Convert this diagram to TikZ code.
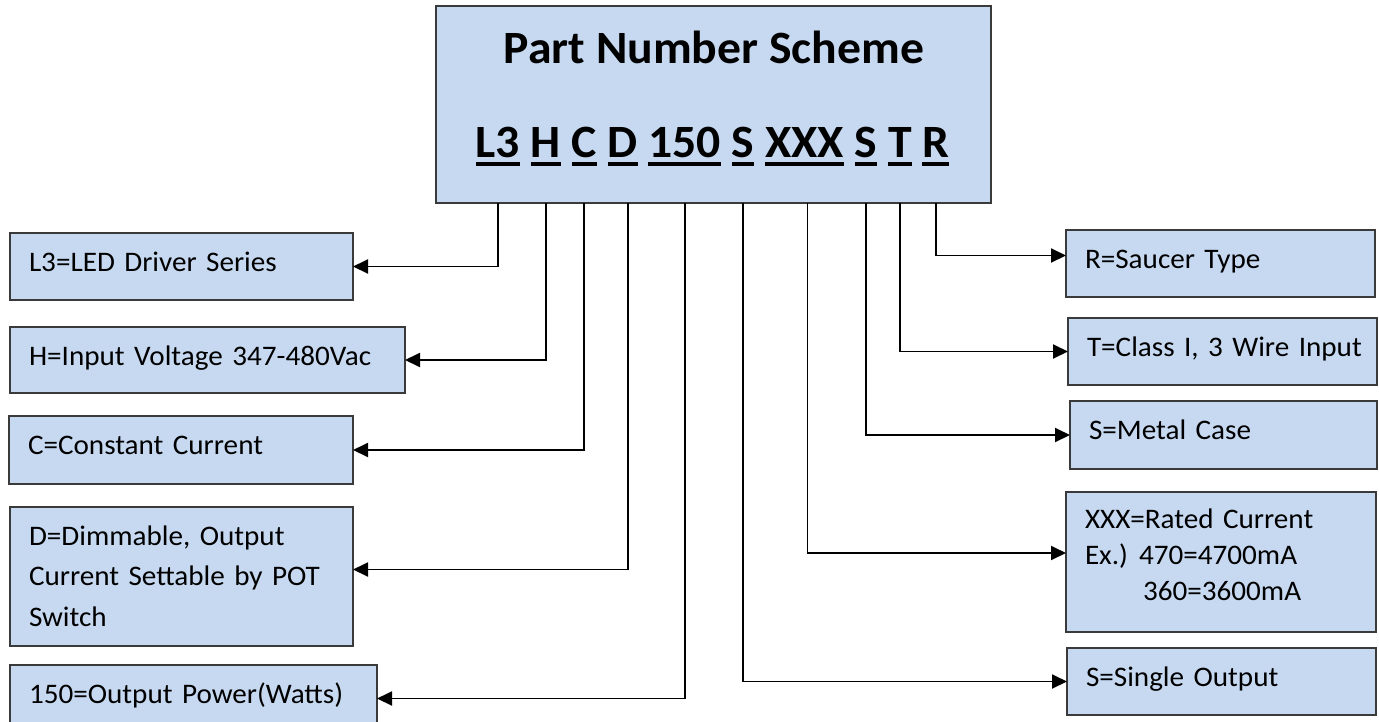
\documentclass[tikz,border=0pt]{standalone}
\usepackage{fontspec}
\setmainfont{Carlito}[FakeStretch=1.03]
\usepackage{tikz}
\usetikzlibrary{positioning,arrows.meta}
\definecolor{pnfill}{HTML}{C6D9F1}
\definecolor{pnedge}{HTML}{3A3A3A}
\tikzset{
  pn/.style={draw=pnedge, line width=1.4pt, fill=pnfill, outer sep=0pt},
  pn main/.style={pn, anchor=north west, inner sep=0pt},
  pn head/.style={font=\fontsize{46.3}{54}\selectfont\bfseries, inner sep=0pt, outer sep=0pt},
  pn code/.style={pn head, anchor=base west},
  pn uline/.style={line width=3.2pt, black},
  pn desc/.style={pn, anchor=north west, align=left, inner xsep=19pt, inner ysep=0pt,
                  text height=38pt, font=\fontsize{28.3}{40.5}\selectfont},
  pn arr/.style={-{Triangle[length=15pt, width=14pt]}, line width=1.9pt, black},
}

\begin{document}
\begin{tikzpicture}[x=1pt, y=-1pt]
  \useasboundingbox (0,0) rectangle (1379,721);
  % the part number itself, one node for each field
  \node[pn main, minimum width=555pt, minimum height=197pt] (scheme) at (436,6) {};
  \node[pn head, anchor=base] (title) at (714,63) {Part Number Scheme};
  \node[pn code] (cL3) at (475.5,157) {L3};
  \node[pn code, base right=10.8pt of cL3] (cH) {H};
  \node[pn code, base right=10.8pt of cH] (cC) {C};
  \node[pn code, base right=10.8pt of cC] (cD) {D};
  \node[pn code, base right=10.8pt of cD] (c150) {150};
  \node[pn code, base right=10.8pt of c150] (cS) {S};
  \node[pn code, base right=10.8pt of cS] (cX) {XXX};
  \node[pn code, base right=10.8pt of cX] (cS2) {S};
  \node[pn code, base right=10.8pt of cS2] (cT) {T};
  \node[pn code, base right=10.8pt of cT] (cR) {R};
  \foreach \c in {cL3,cH,cC,cD,c150,cS,cX,cS2,cT,cR}
    \draw[pn uline] ([yshift=-7pt]\c.base west) -- ([yshift=-7pt]\c.base east);
  % left column: first five fields
  \node[pn desc, text width=305pt, text depth=29pt] (dL3) at (10,233) {L3=LED Driver Series};
  \node[pn desc, text width=357pt, text depth=28pt] (dH) at (10,327) {\mbox{H=Input Voltage 347-480Vac}};
  \node[pn desc, text width=306pt, text depth=30pt] (dC) at (9,416) {C=Constant Current};
  \node[pn desc, text width=305pt, text depth=101pt] (dD) at (10,507) {D=Dimmable, Output\\Current Settable by POT\\Switch};
  \node[pn desc, text width=329pt, text depth=29pt] (d150) at (10,665) {\mbox{150=Output Power(Watts)}};
  % right column: the other five, bottom to top
  \node[pn desc, text width=271pt, text depth=29pt] (dR) at (1066,230) {R=Saucer Type};
  \node[pn desc, text width=271pt, text depth=29pt] (dT) at (1068,318) {\mbox{T=Class I, 3 Wire Input}};
  \node[pn desc, text width=269pt, text depth=30pt] (dSm) at (1070,401) {S=Metal Case};
  \node[pn desc, text width=272pt, text height=36pt, text depth=104pt, font=\fontsize{28.3}{36}\selectfont] (dX) at (1066,492)
     {XXX=Rated Current\\Ex.)\hspace{11pt}470=4700mA\\\hspace*{58pt}360=3600mA};
  \node[pn desc, text width=271pt, text depth=29pt] (dSs) at (1067,648) {S=Single Output};
  \foreach \c/\d/\x/\s in {cL3/dL3/0pt/0pt, cH/dH/0pt/0pt, cC/dC/0pt/0pt, cD/dD/5pt/7pt, c150/d150/0pt/0pt}
    \draw[pn arr] ([xshift=\x]\c |- scheme.south) |- ([yshift=\s]\d.east);
  \foreach \c/\d/\x/\s in {cS/dSs/0pt/0pt, cX/dX/3pt/9pt, cS2/dSm/0pt/0pt, cT/dT/0pt/0pt, cR/dR/0pt/8pt}
    \draw[pn arr] ([xshift=\x]\c |- scheme.south) |- ([yshift=\s]\d.west);
\end{tikzpicture}
\end{document}
